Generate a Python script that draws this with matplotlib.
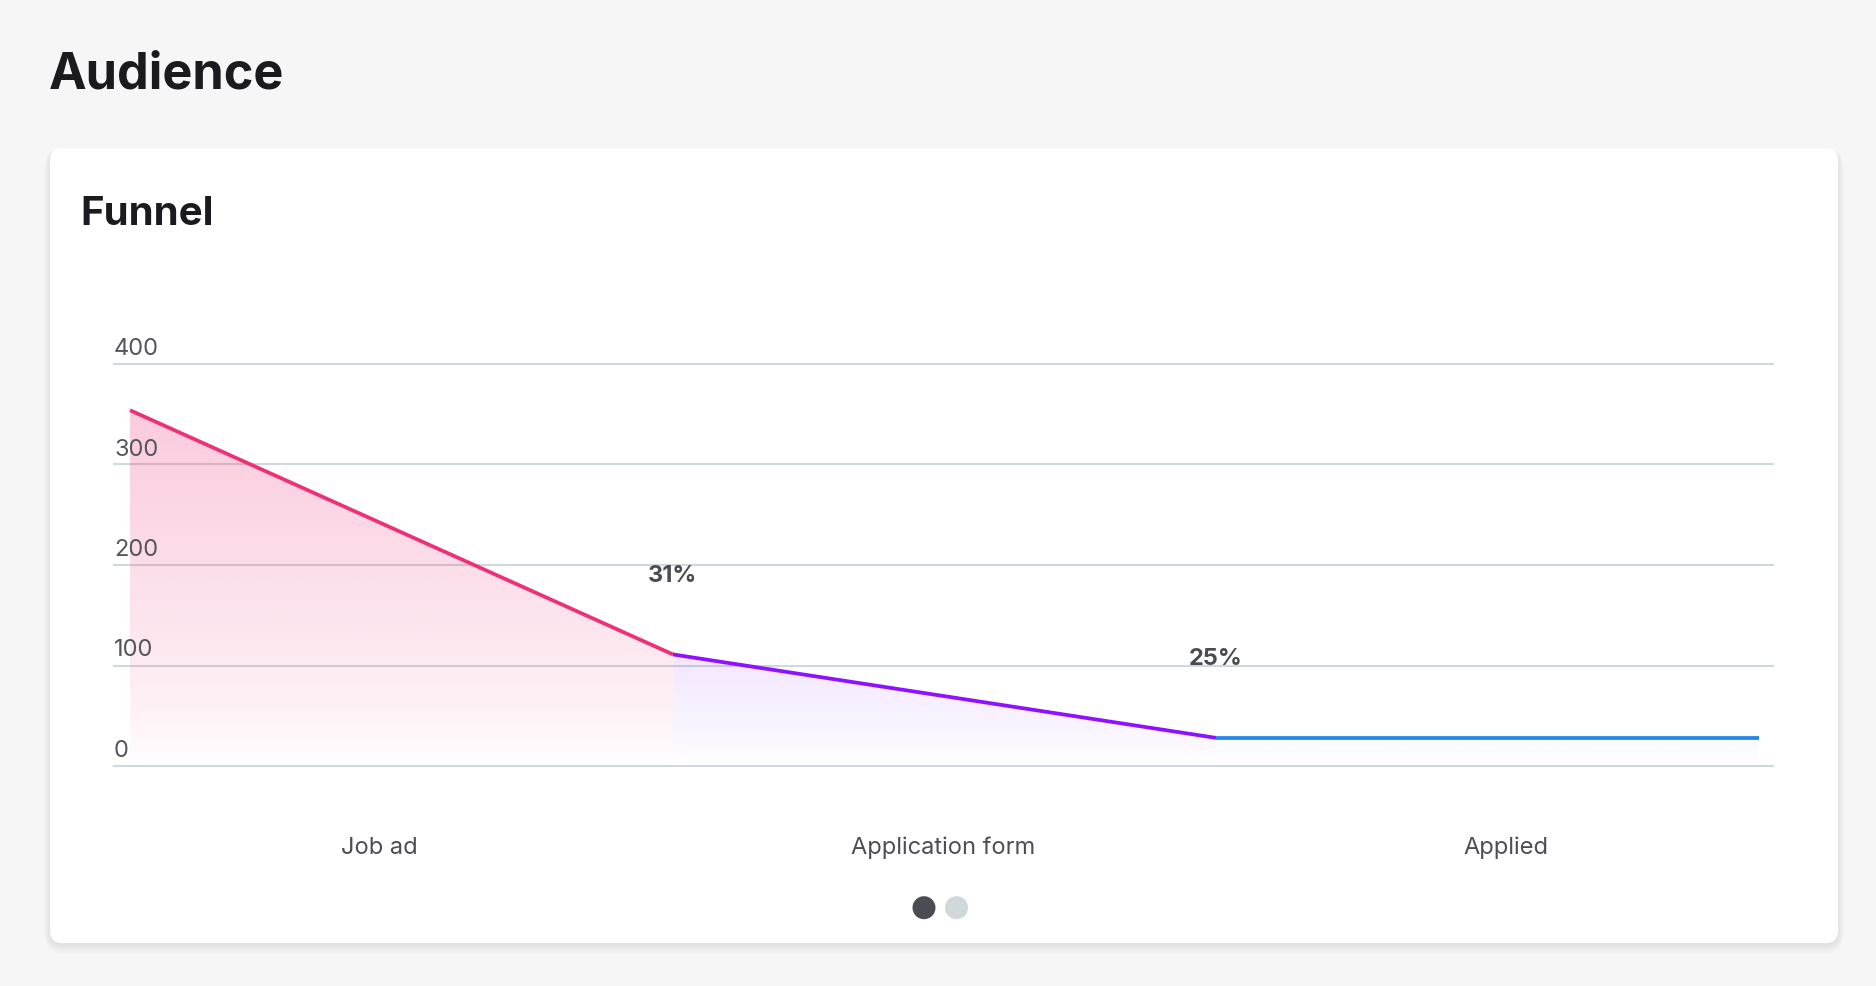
import numpy as np
import matplotlib
matplotlib.use("Agg")
import matplotlib.pyplot as plt
from matplotlib.patches import FancyBboxPatch, Circle, Polygon
from matplotlib.transforms import blended_transform_factory, offset_copy

plt.rcParams['font.family'] = ['Inter', 'DejaVu Sans']

# ---------------- data ----------------
page_title = "Audience"
card_title = "Funnel"
stages = ["Job ad", "Application form", "Applied"]
stage_values = [354, 111, 28]
stage_colors = ["#ef2f78", "#8e12ff", "#2584e8"]
y_ticks = [0, 100, 200, 300, 400]

# ---------------- figure ----------------
W, H, DPI = 1876, 986, 100
fig = plt.figure(figsize=(W / DPI, H / DPI), dpi=DPI)
fig.patch.set_facecolor("#f6f6f6")
inch = fig.dpi_scale_trans

def px(x, y_top):
    return x / DPI, (H - y_top) / DPI

# card shadow + card
cx0, cy_top, cx1, cy_bot = 50, 148, 1838, 943
for i in range(10, 0, -1):
    sp = FancyBboxPatch(px(cx0 - i * 0.6, cy_bot + 2 + i * 0.9),
                        (cx1 - cx0 + i * 1.2) / DPI,
                        (cy_bot - cy_top + i * 1.2) / DPI,
                        boxstyle="round,pad=0,rounding_size=%f" % ((12 + i) / DPI),
                        transform=inch, facecolor="#000000", alpha=0.006,
                        edgecolor="none", zorder=0)
    fig.patches.append(sp)
card = FancyBboxPatch(px(cx0, cy_bot), (cx1 - cx0) / DPI, (cy_bot - cy_top) / DPI,
                      boxstyle="round,pad=0,rounding_size=%f" % (12 / DPI),
                      transform=inch, facecolor="white", edgecolor="none", zorder=1)
fig.patches.append(card)

# titles
fig.text(*px(49, 88.5), page_title, transform=inch, fontsize=36.3, fontweight="bold",
         color="#1b1b1f", va="baseline", ha="left", zorder=5)
fig.text(*px(80, 225), card_title, transform=inch, fontsize=29, fontweight="bold",
         color="#1b1b1f", va="baseline", ha="left", zorder=5)

# ---------------- axes ----------------
ax_l, ax_r = 114, 1773
ax_top, ax_bot = 364, 766
ax = fig.add_axes([ax_l / W, (H - ax_bot) / H, (ax_r - ax_l) / W, (ax_bot - ax_top) / H])
ax.set_facecolor("none")
ax.set_zorder(3)
n = len(stage_values)
xs = np.arange(n + 1)
ys = stage_values + [stage_values[-1]]
for s in ax.spines.values():
    s.set_visible(False)
ax.set_xticks([])
ax.set_yticks([])

# grid lines
for t in y_ticks:
    ax.axhline(t, color="#cfd8dc", lw=1.5, zorder=1, clip_on=False)

# y tick labels above gridlines, left aligned
ylab_tr = offset_copy(blended_transform_factory(ax.transAxes, ax.transData),
                      fig=fig, x=0, y=9, units="dots")
for t in y_ticks:
    ax.text(0.0, t, str(t), transform=ylab_tr, fontsize=17, color="#55555e",
            ha="left", va="baseline", zorder=4)

# gradient fills per segment
ymax_fill = max(stage_values)
grad_h = 256
gy = np.linspace(0, 1, grad_h)
for i in range(n):
    x0, x1 = xs[i], xs[i + 1]
    y0, y1 = ys[i], ys[i + 1]
    col = matplotlib.colors.to_rgb(stage_colors[i])
    img = np.zeros((grad_h, 2, 4))
    img[:, :, 0] = col[0]
    img[:, :, 1] = col[1]
    img[:, :, 2] = col[2]
    alpha = 0.25 * (gy ** 0.75)
    img[:, :, 3] = alpha[:, None]
    im = ax.imshow(img, extent=[x0, x1, 0, ymax_fill], origin="lower",
                   aspect="auto", zorder=2, interpolation="bilinear")
    poly = Polygon([[x0, 0], [x0, y0], [x1, y1], [x1, 0]], closed=True,
                   facecolor="none", edgecolor="none", transform=ax.transData)
    ax.add_patch(poly)
    im.set_clip_path(poly)
ax.set_xlim(-0.0295, 3.026)
ax.set_ylim(0, 400)

# lines
for i in range(n):
    ax.plot(xs[i:i + 2], ys[i:i + 2], color=stage_colors[i], lw=2.7,
            solid_capstyle="butt", zorder=5)

# conversion percentages
for i in range(1, n):
    pct = round(stage_values[i] / stage_values[i - 1] * 100)
    ax.annotate(f"{pct}%", xy=(xs[i], ys[i]), xytext=(0, 52.5), textcoords="offset points",
                ha="center", va="baseline", fontsize=17, fontweight="bold",
                color="#4a4a52", zorder=6)

# category labels
xlab_tr = offset_copy(ax.transAxes, fig=fig, x=0, y=-88, units="dots")
label_frac = [0.1597, 0.4997, 0.839]
for lab, fx in zip(stages, label_frac):
    ax.text(fx, 0, lab, transform=xlab_tr, fontsize=17, color="#4d4d55",
            ha="center", va="baseline")

# pagination dots
for (dx, c) in [(924, "#4b4b53"), (956.5, "#d0d8dc")]:
    fig.patches.append(Circle(px(dx, 907.7), 11.5 / DPI, transform=inch,
                              facecolor=c, edgecolor="none", zorder=5))

fig.savefig("out.png", dpi=DPI, facecolor=fig.get_facecolor())
